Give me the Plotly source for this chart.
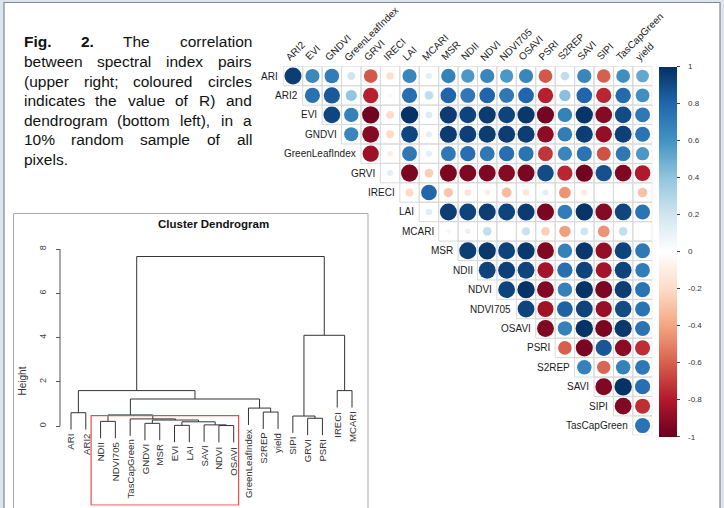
import plotly.graph_objects as go

W, H = 724, 508


def px(x):
    return x / W


def py(y):
    return 1 - y / H


# ---------------------------------------------------------------- data
variables = ["ARI", "ARI2", "EVI", "GNDVI", "GreenLeafIndex", "GRVI", "IRECI",
             "LAI", "MCARI", "MSR", "NDII", "NDVI", "NDVI705", "OSAVI", "PSRI",
             "S2REP", "SAVI", "SIPI", "TasCapGreen", "yield"]

# Pearson R, upper triangle, one list per row (columns to the right of the diagonal)
r_ARI = [0.95, 0.65, 0.70, 0.20, -0.62, -0.18, 0.66, 0.12, 0.68, 0.58, 0.66, 0.58, 0.66, -0.62, 0.25, 0.66, -0.60, 0.62, 0.52]
r_ARI2 = [0.75, 0.85, 0.40, -0.78, -0.05, 0.76, 0.25, 0.80, 0.72, 0.80, 0.72, 0.80, -0.78, 0.42, 0.80, -0.76, 0.78, 0.62]
r_EVI = [0.92, 0.68, -0.97, -0.20, 0.99, 0.15, 0.96, 0.93, 0.96, 0.93, 0.97, -0.96, 0.68, 0.98, -0.92, 0.90, 0.72]
r_GNDVI = [0.66, -0.92, -0.20, 0.92, 0.12, 0.96, 0.94, 0.95, 0.95, 0.95, -0.90, 0.70, 0.95, -0.88, 0.94, 0.74]
r_GreenLeafIndex = [-0.86, -0.10, 0.72, 0.12, 0.72, 0.76, 0.72, 0.76, 0.74, -0.72, 0.66, 0.74, -0.64, 0.72, 0.58]
r_GRVI = [0.12, -0.95, -0.25, -0.95, -0.94, -0.94, -0.92, -0.95, 0.90, -0.76, -0.97, 0.88, -0.93, -0.80]
r_IRECI = [-0.20, 0.80, -0.28, -0.15, -0.10, -0.32, -0.14, 0.12, -0.45, -0.12, -0.03, -0.02, -0.30]
r_LAI = [0.14, 0.95, 0.93, 0.95, 0.93, 0.96, -0.95, 0.70, 0.98, -0.92, 0.92, 0.74]
r_MCARI = [0.06, 0.10, 0.24, 0.00, 0.22, -0.24, -0.42, 0.20, -0.45, 0.24, 0.00]
r_MSR = [0.95, 0.97, 0.93, 0.97, -0.93, 0.68, 0.97, -0.88, 0.93, 0.72]
r_NDII = [0.93, 0.94, 0.93, -0.84, 0.76, 0.93, -0.84, 0.93, 0.70]
r_NDVI = [0.93, 0.99, -0.93, 0.68, 0.99, -0.95, 0.95, 0.74]
r_NDVI705 = [0.93, -0.85, 0.82, 0.93, -0.87, 0.90, 0.74]
r_OSAVI = [-0.93, 0.68, 0.99, -0.95, 0.97, 0.74]
r_PSRI = [-0.60, -0.95, 0.86, -0.90, -0.74]
r_S2REP = [0.68, -0.58, 0.68, 0.72]
r_SAVI = [-0.93, 0.99, 0.76]
r_SIPI = [-0.93, -0.74]
r_TasCapGreen = [0.74]

upper_rows = [r_ARI, r_ARI2, r_EVI, r_GNDVI, r_GreenLeafIndex, r_GRVI, r_IRECI,
              r_LAI, r_MCARI, r_MSR, r_NDII, r_NDVI, r_NDVI705, r_OSAVI, r_PSRI,
              r_S2REP, r_SAVI, r_SIPI, r_TasCapGreen]

colorbar_ticks = [1, 0.8, 0.6, 0.4, 0.2, 0, -0.2, -0.4, -0.6, -0.8, -1]
colorbar_labels = ["1", "0.8", "0.6", "0.4", "0.2", "0", "-0.2", "-0.4", "-0.6", "-0.8", "-1"]

# hierarchical clustering (leaf order and merges)
leaf_order = ["ARI", "ARI2", "NDII", "NDVI705", "TasCapGreen", "GNDVI", "MSR", "EVI",
              "LAI", "SAVI", "NDVI", "OSAVI", "GreenLeafIndex", "S2REP", "yield",
              "SIPI", "GRVI", "PSRI", "IRECI", "MCARI"]
# members are leaf names or indices of earlier merges
merge_left = ["EVI", "NDVI", "SAVI", "GNDVI", 0, 3, "TasCapGreen", "NDII", 7, "S2REP",
              "GreenLeafIndex", 8, "ARI", 12, "GRVI", "SIPI", "IRECI", 15, 13]
merge_right = ["LAI", "OSAVI", 1, "MSR", 2, 4, 5, "NDVI705", 6, "yield",
               9, 10, "ARI2", 11, "PSRI", 14, "MCARI", 16, 17]
merge_height = [0.03, 0.02, 0.05, 0.12, 0.19, 0.27, 0.32, 0.21, 0.50, 0.63,
                0.81, 1.22, 0.60, 1.60, 0.35, 0.45, 1.60, 4.10, 7.66]
height_ticks = [0, 2, 4, 6, 8]
highlight_cluster = ["NDII", "NDVI705", "TasCapGreen", "GNDVI", "MSR", "EVI",
                     "LAI", "SAVI", "NDVI", "OSAVI"]

caption_lines = [
    [("Fig.", True), ("2.", True), ("The", False), ("correlation", False)],
    [("between", False), ("spectral", False), ("index", False), ("pairs", False)],
    [("(upper", False), ("right;", False), ("coloured", False), ("circles", False)],
    [("indicates", False), ("the", False), ("value", False), ("of", False), ("R)", False), ("and", False)],
    [("dendrogram", False), ("(bottom", False), ("left),", False), ("in", False), ("a", False)],
    [("10%", False), ("random", False), ("sample", False), ("of", False), ("all", False)],
    [("pixels.", False)],
]

# ---------------------------------------------------------------- styling
FONT = "Arial, Liberation Sans, sans-serif"
corr_colors = ["#67001F", "#B2182B", "#D6604D", "#F4A582", "#FDDBC7", "#FFFFFF",
               "#D1E5F0", "#92C5DE", "#4393C3", "#2166AC", "#053061"]
colorscale = [[i / 10, c] for i, c in enumerate(corr_colors)]

fig = go.Figure()
annotations = []
shapes = []

# page area framed inside a light border strip
shapes.append(dict(type="rect", xref="paper", yref="paper", x0=px(4), x1=px(720),
                   y0=py(520), y1=py(2.5), fillcolor="white",
                   line=dict(color="#7d8a99", width=1.2), layer="below"))

# ---------------------------------------------------------------- correlation circles
n = len(variables) - 1
cell = 19.42
grid_left, grid_top = 283.3, 66.3
gx0, gx1 = grid_left, grid_left + n * cell
gy0, gy1 = grid_top, grid_top + n * cell

xs, ys, vals = [], [], []
for i, row in enumerate(upper_rows):
    for k, v in enumerate(row):
        xs.append(i + k)
        ys.append(i)
        vals.append(v)

# cell outlines
gxl, gyl = [], []
for i, row in enumerate(upper_rows):
    for k in range(len(row)):
        j = i + k
        gxl += [j - 0.5, j + 0.5, j + 0.5, j - 0.5, j - 0.5, None]
        gyl += [i - 0.5, i - 0.5, i + 0.5, i + 0.5, i - 0.5, None]
fig.add_trace(go.Scatter(x=gxl, y=gyl, mode="lines", line=dict(color="#d9d9d9", width=1),
                         hoverinfo="skip", showlegend=False, xaxis="x", yaxis="y"))

bar_top, bar_bottom = 66.7, 437.0
dmax = 0.9 * cell
fig.add_trace(go.Scatter(
    x=xs, y=ys, mode="markers", xaxis="x", yaxis="y", showlegend=False,
    marker=dict(size=[dmax * abs(v) ** 0.5 for v in vals], color=vals, cmin=-1, cmax=1,
                opacity=1, colorscale=colorscale, line=dict(width=0),
                colorbar=dict(x=px(659), xanchor="left", xpad=0,
                              y=py((bar_top + bar_bottom) / 2),
                              yanchor="middle", ypad=0, len=bar_bottom - bar_top,
                              lenmode="pixels", thickness=18, thicknessmode="pixels",
                              outlinewidth=0, tickvals=colorbar_ticks,
                              showticklabels=False, ticks="outside", ticklen=3,
                              tickcolor="#444", tickwidth=1)),
    hovertemplate="%{marker.color}<extra></extra>"))

for t, lab in zip(colorbar_ticks, colorbar_labels):
    ypix = bar_top + (1 - t) / 2 * (bar_bottom - bar_top)
    annotations.append(dict(xref="paper", yref="paper", x=px(686), y=py(ypix), text=lab,
                            showarrow=False, xanchor="left", yanchor="middle",
                            font=dict(family=FONT, size=8, color="#333")))

for i in range(n):
    annotations.append(dict(xref="x", yref="y", x=i - 0.5, y=i, text=variables[i],
                            showarrow=False, xanchor="right", yanchor="middle", xshift=-3,
                            font=dict(family=FONT, size=10, color="#1a1a1a")))
    annotations.append(dict(xref="x", yref="y", x=i, y=-0.5, text=variables[i + 1],
                            showarrow=False, xanchor="left", yanchor="bottom", textangle=-45,
                            xshift=-12, yshift=1,
                            font=dict(family=FONT, size=10, color="#1a1a1a")))

# ---------------------------------------------------------------- dendrogram
pos = {name: idx + 1 for idx, name in enumerate(leaf_order)}
hang = 0.1 * (max(merge_height) - min(merge_height))
node_x, node_h = [], []
dx, dy = [], []
leaf_bottom = {}


def member(m):
    if isinstance(m, str):
        return pos[m], None
    return node_x[m], node_h[m]


for a, b, h in zip(merge_left, merge_right, merge_height):
    xa, ha = member(a)
    xb, hb = member(b)
    if ha is None:
        ha = h - hang
        leaf_bottom[a] = ha
    if hb is None:
        hb = h - hang
        leaf_bottom[b] = hb
    dx += [xa, xa, xb, xb, None]
    dy += [ha, h, h, hb, None]
    node_x.append((xa + xb) / 2)
    node_h.append(h)

fig.add_trace(go.Scatter(x=dx, y=dy, mode="lines", line=dict(color="#333", width=1),
                         hoverinfo="skip", showlegend=False, xaxis="x2", yaxis="y2"))

for name in leaf_order:
    annotations.append(dict(xref="x2", yref="y2", x=pos[name], y=leaf_bottom[name],
                            text=name, showarrow=False, textangle=-90, xanchor="center",
                            yanchor="top", yshift=-2,
                            font=dict(family=FONT, size=9.6, color="#333")))

# highlighted cluster box
cl = [pos[c] for c in highlight_cluster]
shapes.append(dict(type="rect", xref="x2", yref="y2", x0=min(cl) - 0.64, x1=max(cl) + 0.33,
                   y0=-3.57, y1=0.47, line=dict(color="#f04848", width=1.2)))

# height axis line
shapes.append(dict(type="line", xref="paper", yref="y2", x0=px(60), x1=px(60),
                   y0=min(height_ticks), y1=max(height_ticks),
                   line=dict(color="#555", width=1)))

# dendrogram panel frame
shapes.append(dict(type="rect", xref="paper", yref="paper", x0=px(13.5), x1=px(368),
                   y0=py(530), y1=py(213.5), line=dict(color="#a8a8a8", width=1)))

annotations.append(dict(xref="paper", yref="paper", x=px(213), y=py(224),
                        text="<b>Cluster Dendrogram</b>", showarrow=False,
                        xanchor="center", yanchor="middle",
                        font=dict(family=FONT, size=11.5, color="#111")))
annotations.append(dict(xref="paper", yref="paper", x=px(21.5), y=py(381),
                        text="Height", showarrow=False, textangle=-90,
                        xanchor="center", yanchor="middle",
                        font=dict(family=FONT, size=10, color="#333")))

# ---------------------------------------------------------------- caption
helv = {"a": 556, "b": 556, "c": 500, "d": 556, "e": 556, "f": 278, "g": 556, "h": 556,
        "i": 222, "j": 222, "k": 500, "l": 222, "m": 833, "n": 556, "o": 556, "p": 556,
        "q": 556, "r": 333, "s": 500, "t": 278, "u": 556, "v": 500, "w": 722, "x": 500,
        "y": 500, "z": 500, "F": 611, "R": 722, "T": 611, "%": 889, ".": 278, ",": 278,
        ";": 278, "(": 333, ")": 333}
helv_bold = {"F": 611, "i": 278, "g": 611, ".": 278}
CAP_SIZE = 15.5
cap_left, cap_right = 21.5, 250.0


def word_width(w, bold):
    tot = 0
    for ch in w:
        if ch.isdigit():
            tot += 556
        elif bold:
            tot += helv_bold.get(ch, 600)
        else:
            tot += helv.get(ch, 556)
    return tot * CAP_SIZE / 1000


for li, words in enumerate(caption_lines):
    y = 42 + li * 19.6
    widths = [word_width(w, b) for w, b in words]
    if li < len(caption_lines) - 1 and len(words) > 1:
        gap = (cap_right - cap_left - sum(widths)) / (len(words) - 1)
    else:
        gap = 0.278 * CAP_SIZE
    x = cap_left
    for (w, b), wd in zip(words, widths):
        annotations.append(dict(xref="paper", yref="paper", x=px(x), y=py(y),
                                text=f"<b>{w}</b>" if b else w, showarrow=False,
                                xanchor="left", yanchor="middle",
                                font=dict(family=FONT, size=CAP_SIZE, color="#111")))
        x += wd + gap

# ---------------------------------------------------------------- layout
y2_lo, y2_hi = -3.6, 8.4
unit = 22.125
fig.update_layout(
    width=W, height=H, margin=dict(l=0, r=0, t=0, b=0),
    paper_bgcolor="#dde4ec", plot_bgcolor="rgba(0,0,0,0)",
    xaxis=dict(domain=[px(gx0), px(gx1)], range=[-0.5, n - 0.5], visible=False,
               fixedrange=True),
    yaxis=dict(domain=[py(gy1), py(gy0)], range=[n - 0.5, -0.5], visible=False,
               fixedrange=True),
    xaxis2=dict(domain=[px(71 - 14.79), px(71 + 20 * 14.79)], range=[0, 21],
                visible=False, anchor="y2"),
    yaxis2=dict(domain=[py(426 - y2_lo * unit), py(426 - y2_hi * unit)],
                range=[y2_lo, y2_hi], anchor="free", position=px(60),
                showgrid=False, zeroline=False, showline=False,
                tickvals=height_ticks, ticks="outside", ticklen=4, tickcolor="#555",
                ticklabelstandoff=6,
                tickangle=-90, tickfont=dict(family=FONT, size=9, color="#444")),
    annotations=annotations, shapes=shapes, showlegend=False,
)

fig.write_html("out.html")
